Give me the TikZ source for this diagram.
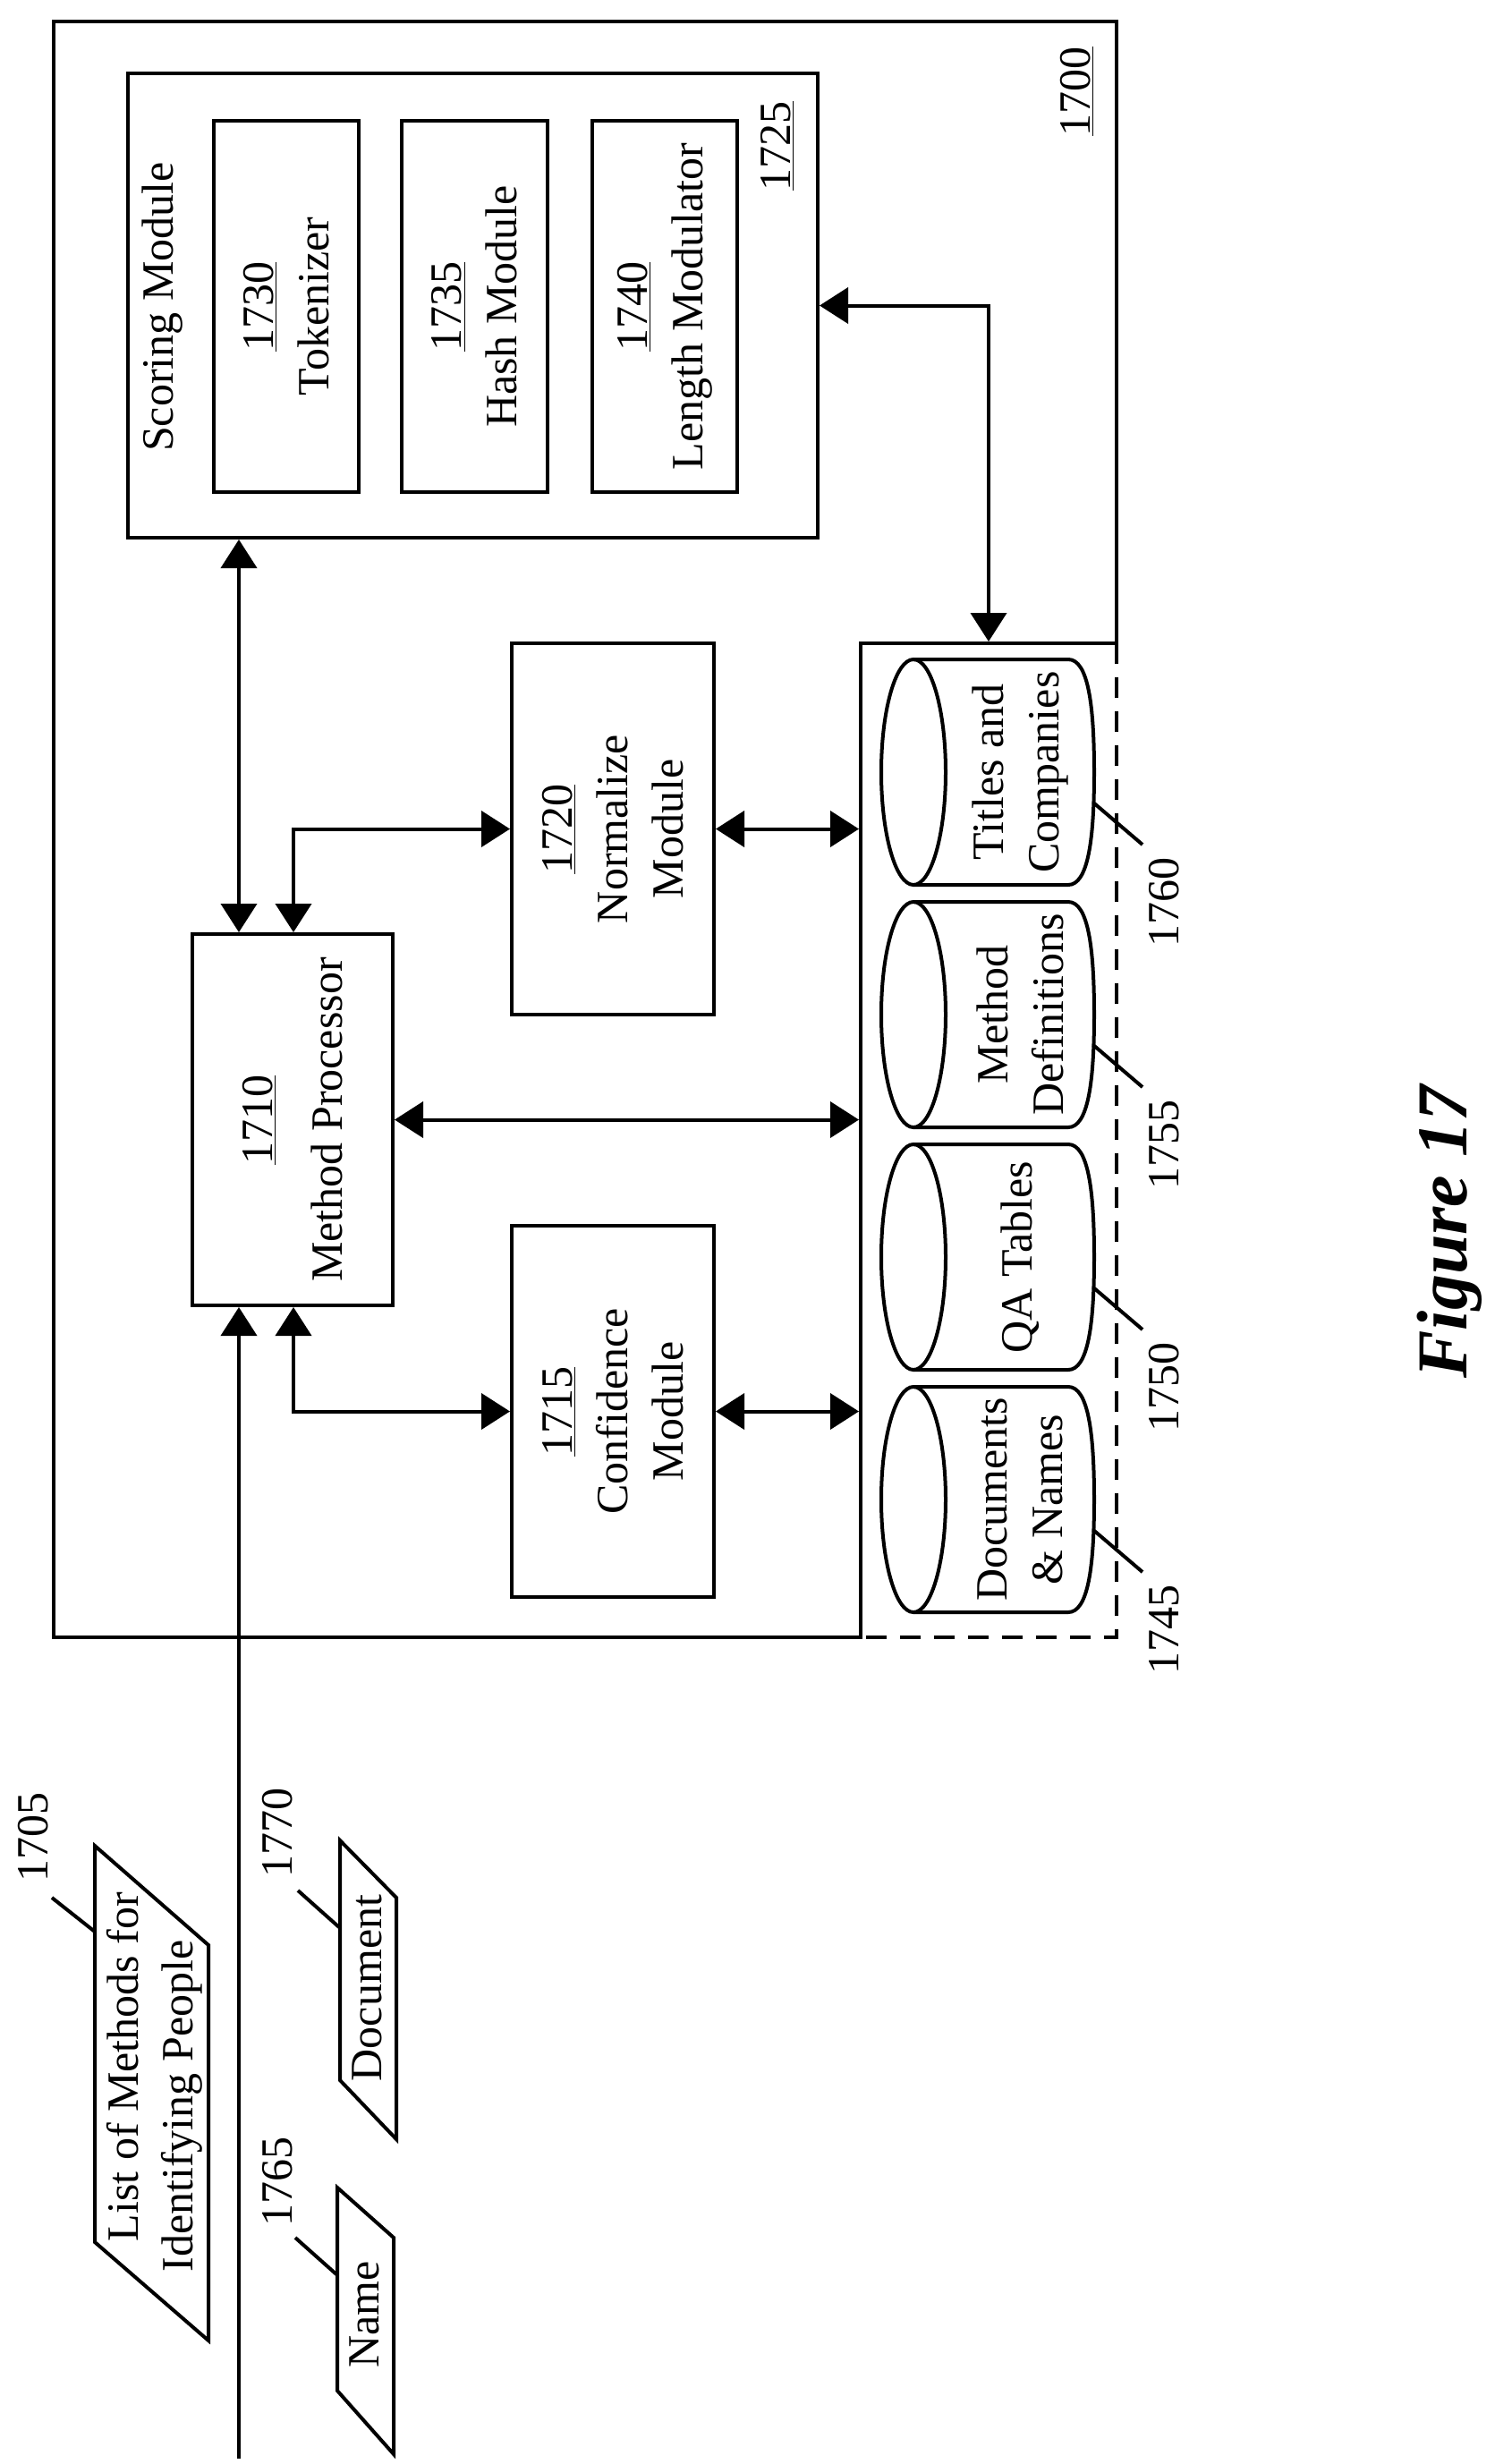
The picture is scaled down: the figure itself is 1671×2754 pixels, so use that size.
\documentclass[tikz,border=0pt]{standalone}
\usepackage{fontspec}
\setmainfont{Liberation Serif}
\usetikzlibrary{arrows.meta,calc}
\begin{document}
\begin{tikzpicture}[x=0.5pt,y=-0.5pt,line width=2pt,
  every node/.style={font=\fontsize{25}{31}\selectfont},
  box/.style={draw,rectangle,inner sep=0pt},
  txt/.style={rotate=90,align=center,inner sep=0pt},
  dbl/.style={{Triangle[length=16pt,width=20pt]}-{Triangle[length=16pt,width=20pt]}},
  sgl/.style={-{Triangle[length=16pt,width=20pt]}},
  lead/.style={line width=2pt}]
\useasboundingbox (0,0) rectangle (1671,2754);
% outer 1700
\draw (60,24) -- (1248,24) -- (1248,719) -- (962,719) -- (962,1830) -- (60,1830) -- cycle;
\draw[dash pattern=on 11.5pt off 7.5pt] (1248,719) -- (1248,1830) -- (962,1830);
\node[inner sep=0pt,minimum width=143pt,minimum height=555.5pt] (db) at (1105,1274.5) {};
\node[txt] (l1700) at (1204,102) {\underline{1700}};
% scoring module
\node[box,minimum width=385.5pt,minimum height=259.5pt] (sc) at (528.5,341.5) {};
\node[txt] (tsc) at (182,343) {Scoring Module};
\node[txt] (l1725) at (869,163) {\underline{1725}};
\node[box,minimum width=81pt,minimum height=207.5pt] (tok) at (320,342.5) {};
\node[txt] at (tok.center) {\underline{1730}\\Tokenizer};
\node[box,minimum width=81.5pt,minimum height=207.5pt] (hash) at (530.5,342.5) {};
\node[txt] at (hash.center) {\underline{1735}\\Hash Module};
\node[box,minimum width=81pt,minimum height=207.5pt] (len) at (743,342.5) {};
\node[txt] at (len.center) {\underline{1740}\\Length Modulator};
% method processor
\node[box,minimum width=112pt,minimum height=207.5pt] (mp) at (327,1251.5) {};
\node[txt] at (mp.center) {\underline{1710}\\[8pt]Method Processor};
\node[box,minimum width=113pt,minimum height=207.5pt] (norm) at (685,926.5) {};
\node[txt] at (norm.center) {\underline{1720}\\Normalize\\Module};
\node[box,minimum width=113pt,minimum height=207.5pt] (conf) at (685,1577.5) {};
\node[txt] at (conf.center) {\underline{1715}\\Confidence\\Module};
% connectors
\coordinate (colA) at (267,0);
\coordinate (colB) at (328,0);
\coordinate (colC) at (1105,0);
\coordinate (inp) at (267,2748);
\draw[dbl] (sc.south -| colA) -- (mp.north -| colA);
\draw[dbl] (mp.north -| colB) |- (norm.west);
\draw[dbl] (mp.south -| colB) |- (conf.west);
\draw[dbl] (mp.east) -- (mp.east -| db.west);
\draw[dbl] (norm.east) -- (norm.east -| db.west);
\draw[dbl] (conf.east) -- (conf.east -| db.west);
\draw[dbl] (sc.east) -| (db.north -| colC);
\draw[sgl] (inp) -- (mp.south -| colA);
% cylinders
\newcommand{\mycyl}[4]{%
  \pgfmathsetmacro{\ct}{#1}\pgfmathsetmacro{\cb}{#1+252}\pgfmathsetmacro{\cm}{#1+126}
  \draw (1021,\ct) -- (1194,\ct) .. controls (1216,\ct) and (1223,\ct+50) .. (1223,\cm)
     .. controls (1223,\cb-50) and (1216,\cb) .. (1194,\cb) -- (1021,\cb);
  \draw (1021,\cm) ellipse [x radius=18pt,y radius=63pt];
  \node[txt] (#2) at (1140,\cm) {#3};
  \draw[lead] (1222,\ct+160) -- (1277,\ct+207);
  \node[txt,anchor=east] (#2l) at (1301,\ct+219) {#4};
}
\mycyl{737}{c60}{Titles and\\Companies}{1760}
\mycyl{1008}{c55}{Method\\Definitions}{1755}
\mycyl{1279}{c50}{QA Tables}{1750}
\mycyl{1550}{c45}{Documents\\\& Names}{1745}
% parallelograms
\draw (106,2063) -- (233,2174) -- (233,2616) -- (106,2506) -- cycle;
\node[txt] (p1a) at (137,2310) {List of Methods for};
\node[txt] (p1b) at (203,2354) {Identifying People};
\draw[lead] (106,2159) -- (58,2121);
\node[txt,anchor=west] (l1705) at (37,2105) {1705};
\draw (380,2057) -- (443,2121) -- (443,2391) -- (380,2325) -- cycle;
\node[txt] (p2) at (410,2222) {Document};
\draw[lead] (379,2154) -- (333,2113);
\node[txt,anchor=west] (l1770) at (310,2100) {1770};
\draw (377,2445) -- (440,2501) -- (440,2743) -- (377,2672) -- cycle;
\node[txt] (p3) at (407,2587) {Name};
\draw[lead] (376,2542) -- (330,2501);
\node[txt,anchor=west] (l1765) at (310,2490) {1765};
% figure label
\node[rotate=90,anchor=base,inner sep=0pt,font=\fontsize{40}{48}\selectfont\bfseries\itshape] (fig) at (1639,1377) {Figure 17};
\end{tikzpicture}
\end{document}
